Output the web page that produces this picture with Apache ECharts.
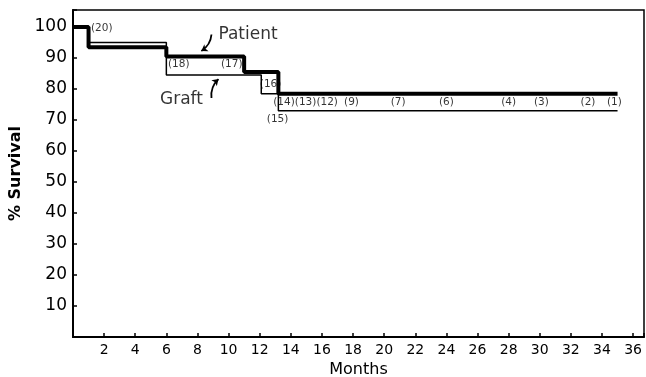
<!DOCTYPE html>
<html>
<head>
<meta charset="utf-8">
<script src="https://cdn.jsdelivr.net/npm/echarts@6/dist/echarts.min.js"></script>
<style>
html,body{margin:0;padding:0;background:#fff;}
#survival{width:646px;height:377px;}
</style>
</head>
<body>
<div id="survival"></div>
<script>
// step points: [month, % survival]
var patientPts = [[0,100],[1,93.5],[6,90.5],[11,85.5],[13.2,78.5],[35,78.5]];
var graftPts = [[0,100],[1,95],[6,84.5],[12.1,78.5],[13.2,73],[35,73]];

// numbers at risk
var riskText = ['(20)','(18)','(17)','(16)','(15)','(14)(13)(12)','(9)','(7)','(6)','(4)','(3)','(2)','(1)'];
var riskMonth = [1.85,6.8,10.2,12.7,13.15,14.95,17.9,20.9,24.0,28.0,30.1,33.1,34.8];
var riskValue = [99.5,87.9,87.9,81.6,70.1,75.8,75.8,75.8,75.8,75.8,75.8,75.8,75.8];

// curve names and their arrows
var curveNames = ['Patient','Graft'];
var nameMonth = [11.25,6.97];
var nameValue = [97.6,76.6];
var arrowFrom = [[8.9,97.6],[8.9,77.1]];
var arrowTo = [[8.25,92.3],[9.35,83.2]];

var xTicks = [];
for (var i = 2; i <= 36; i += 2) xTicks.push(i);

var font = 'DejaVu Sans';
var myChart = echarts.init(document.getElementById('survival'));

var riskData = [];
for (var i = 0; i < riskText.length; i++) {
	riskData.push({value:[riskMonth[i],riskValue[i]], name:riskText[i]});
}
var nameData = [];
for (var i = 0; i < curveNames.length; i++) {
	nameData.push({value:[nameMonth[i],nameValue[i]], name:curveNames[i]});
}
var arrowData = [];
for (var i = 0; i < arrowFrom.length; i++) {
	arrowData.push({coords:[arrowFrom[i],arrowTo[i]]});
}

var option = {
	animation:false,
	backgroundColor:'#fff',
	grid:{
		left:73, right:2, top:10, bottom:40,
		outerBoundsMode:'none',
		show:true, borderColor:'#000', borderWidth:1.5
	},
	xAxis:{
		type:'value', min:0, max:36.7, interval:2,
		name:'Months', nameLocation:'middle', nameGap:18,
		nameTextStyle:{fontFamily:font, fontSize:16, color:'#000'},
		axisLine:{show:true, lineStyle:{color:'#000', width:2}},
		axisTick:{show:true, inside:true, length:4, lineStyle:{color:'#000', width:1.5}},
		axisLabel:{
			fontFamily:font, fontSize:14, color:'#000', margin:6,
			formatter:function(v){ return xTicks.indexOf(v) >= 0 ? String(v) : ''; }
		},
		splitLine:{show:false}
	},
	yAxis:{
		type:'value', min:0, max:105.5, interval:10,
		name:'% Survival', nameLocation:'middle', nameGap:46, nameRotate:90,
		nameTextStyle:{fontFamily:font, fontSize:16, color:'#000', fontWeight:'bold'},
		axisLine:{show:true, lineStyle:{color:'#000', width:2}},
		axisTick:{show:true, inside:true, length:4, lineStyle:{color:'#000', width:1.5}},
		axisLabel:{
			fontFamily:font, fontSize:17, color:'#000', margin:6,
			formatter:function(v){ return (v > 0 && v % 10 === 0) ? String(v) : ''; }
		},
		splitLine:{show:false}
	},
	series:[{
		type:'scatter', symbolSize:0, z:1,
		data:riskData,
		label:{show:true, position:'inside', formatter:'{b}', fontFamily:font, fontSize:10.5, color:'#000'}
	},{
		type:'scatter', symbolSize:0, z:1,
		data:nameData,
		label:{show:true, position:'inside', formatter:'{b}', fontFamily:font, fontSize:17, color:'#000'}
	},{
		type:'lines', coordinateSystem:'cartesian2d', z:3,
		symbol:['none','arrow'], symbolSize:6,
		lineStyle:{color:'#000', width:1.8, curveness:0.25, opacity:1},
		data:arrowData
	},{
		type:'line', name:'Graft', step:'end', symbol:'none', z:4,
		lineStyle:{color:'#000', width:1.5},
		data:graftPts
	},{
		type:'line', name:'Patient', step:'end', symbol:'none', z:5,
		lineStyle:{color:'#000', width:4},
		data:patientPts
	}]
};
myChart.setOption(option,true);
</script>
</body>
</html>
